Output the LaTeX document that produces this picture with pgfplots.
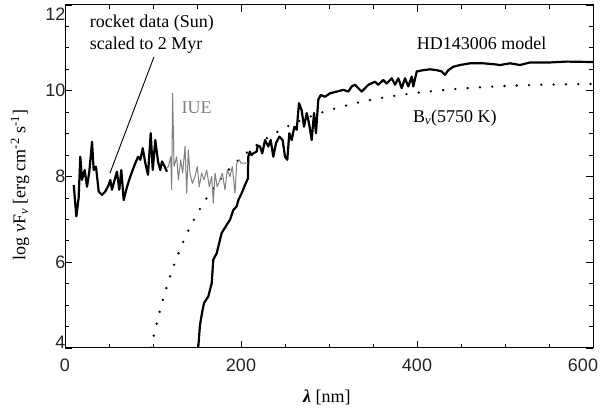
\documentclass[border=0pt]{standalone}
\usepackage{fontspec}
\setmainfont{Liberation Serif}
\newfontfamily\sansf{Liberation Sans}
\usepackage{pgfplots}
\pgfplotsset{compat=1.18}
\definecolor{iuegray}{gray}{0.5}
\tikzset{lbl/.style={font=\fontsize{18bp}{20bp}\selectfont}}
\begin{document}
\begin{tikzpicture}
\begin{axis}[
  width=528bp, height=343bp, scale only axis,
  xmin=0, xmax=600, ymin=4, ymax=12,
  xtick={0,200,400,600}, ytick={4,6,8,10,12},
  xticklabels={0,200,400,{\hspace*{-10bp}600\hspace*{10bp}}},
  yticklabels={{\raisebox{6bp}[\height][\depth]{4}},6,8,10,{\raisebox{-9bp}[\height][\depth]{12}}},
  minor x tick num=3, minor y tick num=3,
  tick align=inside,
  major tick length=7bp, minor tick length=4bp,
  tick style={black, line width=0.8bp},
  axis line style={line width=1bp},
  ticklabel style={font=\sansf\fontsize{18bp}{20bp}\selectfont, text=black!85},
  xticklabel style={yshift=-7bp},
  yticklabel style={xshift=4bp},
  label style={font=\fontsize{18bp}{20bp}\selectfont},
  xlabel={\textbf{\textit{λ}} [nm]},
  ylabel={log \textit{ν}F\textsubscript{\textit{ν}} [erg cm\textsuperscript{-2} s\textsuperscript{-1}]},
  xlabel style={at={(rel axis cs:0.496,-0.143)}, anchor=center},
  ylabel style={at={(rel axis cs:-0.085,0.475)}, anchor=center},
]
\coordinate (sw) at (rel axis cs:0,0);
\coordinate (ne) at (rel axis cs:1,1);
% blackbody B_nu(5750 K)
\addplot[black, line width=2.6bp, line cap=round, dash pattern=on 0pt off 12.3bp, smooth] coordinates {
(95,3.727) (100,4.210) (110,5.032) (120,5.705) (130,6.262) (140,6.730) (150,7.128)
(160,7.469) (170,7.763) (180,8.019) (190,8.243) (200,8.440) (210,8.613) (220,8.768)
(240,9.028) (260,9.238) (280,9.407) (300,9.546) (330,9.710) (360,9.834) (400,9.953)
(450,10.051) (500,10.111) (550,10.144) (600,10.160)};
% HD143006 model
\addplot[black, line width=2.2bp, line join=round] coordinates {
(150.5,3.8) (151.5,4.03) (153.4,4.54) (156,4.85) (158,5.05) (162.8,5.20) (166.7,5.51)
(168.5,6.06) (172.4,6.21) (178,6.68) (183.7,6.87) (187.5,6.99) (191.3,7.22) (195,7.30)
(197,7.45) (200.8,7.61) (204.5,7.80) (207.8,7.95) (208.3,8.46) (210,8.58) (212,8.50)
(214,8.54) (217.8,8.58) (219,8.72) (221.6,8.70) (224.2,8.54) (227.3,8.85) (231,8.70)
(233.7,8.85) (236.7,8.46) (239.8,8.78) (243.6,8.93) (247.3,8.85) (250,8.46) (252.6,8.39)
(254.9,9.01) (257.6,8.85) (260.6,9.16) (263.3,9.09) (265.9,9.71) (268.9,9.55) (271.6,9.16)
(274.7,9.48) (277.3,9.24) (280.3,8.85) (283,9.48) (285.2,9.01) (287.8,9.79) (290.6,9.90)
(295.5,9.86) (301.1,9.94) (308.8,9.98) (316.3,10.02) (322,9.98) (325.8,10.10) (329.5,10.14)
(337.2,9.98) (344.7,10.14) (352.3,10.21) (356,10.14) (361.7,10.25) (365.6,10.17) (371.3,10.29)
(375,10.14) (378.8,10.29) (382.6,10.06) (386.4,10.29) (390.1,10.10) (394,10.33) (395.8,10.10)
(399.7,10.45) (407.2,10.48) (414.8,10.50) (422.4,10.48) (428,10.45) (431.8,10.37) (435.6,10.48)
(441.3,10.56) (448.9,10.60) (460.2,10.64) (475.3,10.64) (486.7,10.62) (494.3,10.60) (505.7,10.64)
(517,10.60) (528.4,10.66) (551,10.66) (570,10.68) (600,10.67)};
% rocket data
\addplot[black, line width=2.2bp, line join=round] coordinates {
(9.9,7.80) (12.9,7.07) (15.5,7.50) (17.4,8.46) (19.3,7.92) (22.4,8.15) (25,7.76) (27.6,8.11)
(30.7,8.81) (32.6,8.15) (35.2,8.23) (38.3,7.65) (42,7.57) (45.8,7.65) (49.6,7.80) (51.5,7.92)
(53.4,7.69) (56.4,7.92) (59,8.11) (61.7,7.69) (64,8.15) (66.7,7.45) (70.5,7.76) (74.2,8.00)
(76.9,8.15) (79.9,8.31) (83,8.46) (85.6,8.39) (88.3,8.66) (91.3,8.31) (94.3,8.04) (97.4,9.01)
(99.7,8.15) (102.6,8.85) (105.7,8.35) (108.3,8.15) (110.2,8.35) (113.3,8.23) (115.9,8.11)};
% IUE
\addplot[iuegray, line width=1bp, line join=round] coordinates {
(115.5,8.20) (117.4,8.23) (120.1,8.46) (121.2,7.69) (122.3,9.94) (123.9,8.23) (126.9,8.46)
(128.8,7.92) (131.5,8.39) (133.7,8.08) (136.4,8.70) (138.3,7.61) (140.1,8.62) (142,8.08)
(144.7,7.84) (147.7,8.00) (150.3,8.23) (152.6,7.76) (155.3,8.08) (158,7.92) (161,8.15)
(164,7.76) (166.7,8.00) (168.5,7.38) (170.5,8.08) (173,7.76) (176.1,7.92) (178.8,8.08)
(181.8,7.69) (184.4,8.15) (187.5,8.00) (190.1,8.23) (193.2,7.61) (195.1,8.31) (198,8.39)
(200,8.31) (208.3,8.31)};
% annotation line
\addplot[black, line width=0.9bp] coordinates {(101.1,10.79) (51.1,8.08)};
\node[lbl, anchor=west, inner sep=0pt] at (axis cs:28,11.58) {rocket data (Sun)};
\node[lbl, anchor=west, inner sep=0pt] at (axis cs:28,11.07) {scaled to 2 Myr};
\node[lbl, text=iuegray] at (axis cs:149.7,9.60) {IUE};
\node[lbl] at (axis cs:473.5,11.11) {HD143006 model};
\node[lbl] at (axis cs:443,9.37) {B\textsubscript{\textit{ν}}(5750 K)};
\end{axis}
\pgfresetboundingbox
\path[use as bounding box] ([xshift=-65bp,yshift=-67bp]sw) rectangle ([xshift=15bp,yshift=5bp]ne);
\end{tikzpicture}
\end{document}
